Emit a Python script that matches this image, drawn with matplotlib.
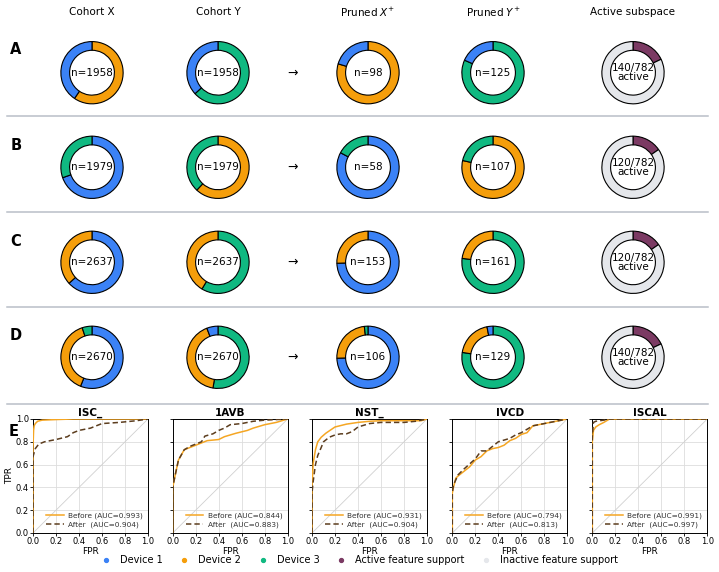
import matplotlib
matplotlib.use("Agg")
import matplotlib.pyplot as plt
from matplotlib.lines import Line2D
import numpy as np

W, H = 719, 572
DPI = 100

# ---------------- data ----------------
device_names = ["Device 1", "Device 2", "Device 3"]
device_colors = ["#3B82F6", "#F59E0B", "#10B981"]
active_color = "#7B3A63"
inactive_color = "#E5E7EB"

row_labels = ["A", "B", "C", "D"]
col_titles = ["Cohort X", "Cohort Y", "Pruned $X^{+}$", "Pruned $Y^{+}$", "Active subspace"]

# counts per device [Device 1, Device 2, Device 3]
cohort_x = [[793, 1165, 0], [1377, 0, 602], [1667, 970, 0], [1495, 1039, 136]]
cohort_y = [[720, 0, 1238], [0, 1225, 754], [0, 1091, 1546], [155, 1111, 1404]]
pruned_x = [[20, 78, 0], [48, 0, 10], [114, 39, 0], [79, 25, 2]]
pruned_y = [[23, 0, 102], [0, 84, 23], [0, 37, 124], [4, 25, 100]]
active_features = [140, 120, 120, 140]
total_features = 782

roc_titles = ["ISC_", "1AVB", "NST_", "IVCD", "ISCAL"]
auc_before = [0.993, 0.844, 0.931, 0.794, 0.991]
auc_after = [0.904, 0.883, 0.904, 0.813, 0.997]

before_fpr = [
    [0, 0, 0.005, 0.01, 0.02, 0.04, 0.08, 0.2, 0.35, 1.0],
    [0, 0, 0.02, 0.05, 0.1, 0.15, 0.2, 0.3, 0.4, 0.45, 0.55, 0.65, 0.7, 0.8, 0.9, 1.0],
    [0, 0, 0.01, 0.03, 0.05, 0.08, 0.12, 0.2, 0.3, 0.4, 0.5, 0.6, 0.95, 1.0],
    [0, 0, 0.01, 0.03, 0.05, 0.1, 0.15, 0.2, 0.25, 0.3, 0.35, 0.4, 0.45, 0.5, 0.55, 0.6, 0.65, 0.7, 0.8, 0.9, 1.0],
    [0, 0, 0.01, 0.03, 0.06, 0.1, 0.15, 1.0],
]
before_tpr = [
    [0, 0.75, 0.9, 0.94, 0.96, 0.98, 0.99, 0.995, 1.0, 1.0],
    [0, 0.4, 0.5, 0.64, 0.73, 0.75, 0.77, 0.81, 0.82, 0.845, 0.875, 0.9, 0.92, 0.95, 0.97, 1.0],
    [0, 0.4, 0.61, 0.73, 0.8, 0.84, 0.875, 0.93, 0.955, 0.97, 0.98, 0.985, 0.985, 1.0],
    [0, 0.35, 0.4, 0.48, 0.5, 0.54, 0.58, 0.64, 0.67, 0.72, 0.74, 0.75, 0.77, 0.81, 0.83, 0.865, 0.88, 0.94, 0.96, 0.98, 1.0],
    [0, 0.8, 0.9, 0.93, 0.95, 0.97, 1.0, 1.0],
]
after_fpr = [
    [0, 0, 0.02, 0.05, 0.1, 0.2, 0.3, 0.35, 0.4, 0.5, 0.6, 0.75, 0.9, 1.0],
    [0, 0, 0.02, 0.05, 0.1, 0.15, 0.2, 0.25, 0.28, 0.35, 0.4, 0.45, 0.5, 0.6, 0.65, 0.7, 0.8, 1.0],
    [0, 0, 0.01, 0.03, 0.05, 0.08, 0.1, 0.15, 0.2, 0.25, 0.3, 0.35, 0.4, 0.5, 0.6, 0.8, 0.9, 1.0],
    [0, 0, 0.01, 0.05, 0.1, 0.2, 0.25, 0.3, 0.4, 0.5, 0.55, 0.6, 0.7, 0.8, 1.0],
    [0, 0, 0.01, 0.03, 0.1, 0.15, 1.0],
]
after_tpr = [
    [0, 0.67, 0.74, 0.78, 0.8, 0.82, 0.845, 0.88, 0.9, 0.92, 0.96, 0.97, 0.985, 1.0],
    [0, 0.4, 0.5, 0.64, 0.73, 0.76, 0.78, 0.8, 0.85, 0.87, 0.9, 0.92, 0.95, 0.96, 0.97, 0.98, 0.99, 1.0],
    [0, 0.35, 0.45, 0.6, 0.68, 0.75, 0.8, 0.84, 0.86, 0.87, 0.87, 0.89, 0.93, 0.96, 0.97, 0.97, 0.98, 1.0],
    [0, 0.35, 0.42, 0.51, 0.56, 0.65, 0.72, 0.72, 0.8, 0.83, 0.86, 0.88, 0.94, 0.96, 1.0],
    [0, 0.85, 0.97, 0.98, 0.99, 1.0, 1.0],
]

# ---------------- layout ----------------
fig = plt.figure(figsize=(W / DPI, H / DPI), dpi=DPI)
fig.patch.set_facecolor("white")


def px_axes(x0, y0, w, h):
    return fig.add_axes([x0 / W, 1 - (y0 + h) / H, w / W, h / H])


def fx(x):
    return x / W


def fy(y):
    return 1 - y / H


col_x = [92, 218, 368, 493, 633]
arrow_x = 293
row_y = [72.7, 167.3, 262.3, 357.3]
row_label_y = [50, 146, 241, 336]
sep_y = [116, 211.5, 306.5, 404]

for cx, t in zip(col_x, col_titles):
    fig.text(fx(cx), fy(12), t, ha="center", va="center", fontsize=7.5)

for y in sep_y:
    fig.add_artist(Line2D([fx(7), fx(708)], [fy(y), fy(y)], color="#B9BFC8", lw=1.1,
                          transform=fig.transFigure))


def donut(cx, cy, counts, colors, label):
    ax = px_axes(cx - 33, cy - 33, 66, 66)
    ax.pie(counts, colors=colors, startangle=90, counterclock=False, radius=1.0,
           wedgeprops=dict(width=0.28, edgecolor="black", linewidth=0.8))
    ax.set_xlim(-1.06, 1.06)
    ax.set_ylim(-1.06, 1.06)
    ax.set_aspect("equal")
    ax.axis("off")
    ax.text(0, 0, label, ha="center", va="center", fontsize=7.5, linespacing=0.85)
    return ax


for r in range(4):
    fig.text(fx(16), fy(row_label_y[r]), row_labels[r], ha="center", va="center",
             fontsize=10.5, fontweight="bold")
    for c, data in enumerate([cohort_x[r], cohort_y[r], pruned_x[r], pruned_y[r]]):
        order = sorted([i for i in range(3) if data[i] > 0], key=lambda i: -data[i])
        vals = [data[i] for i in order]
        cols = [device_colors[i] for i in order]
        donut(col_x[c], row_y[r], vals, cols, f"n={sum(data)}")
    fig.text(fx(arrow_x), fy(row_y[r]), "→", ha="center", va="center", fontsize=9)
    a = active_features[r]
    donut(col_x[4], row_y[r], [a, total_features - a], [active_color, inactive_color],
          f"{a}/{total_features}\nactive")

# ---------------- ROC panels ----------------
roc_left = [33, 172.7, 312, 452.3, 592.3]
roc_top, roc_w, roc_h = 419, 115, 114
before_color = "#F5A623"
after_color = "#5C3D1E"

for k in range(5):
    ax = px_axes(roc_left[k], roc_top, roc_w, roc_h)
    ax.plot([0, 1], [0, 1], color="#D0D0D0", lw=0.6, zorder=1)
    ax.plot(before_fpr[k], before_tpr[k], color=before_color, lw=1.1,
            label=f"Before (AUC={auc_before[k]:.3f})", zorder=3)
    ax.plot(after_fpr[k], after_tpr[k], color=after_color, lw=1.1, ls=(0, (3.5, 2)),
            label=f"After  (AUC={auc_after[k]:.3f})", zorder=4)
    ax.set_xlim(0, 1)
    ax.set_ylim(0, 1)
    ticks = [0, 0.2, 0.4, 0.6, 0.8, 1.0]
    ax.set_xticks(ticks)
    ax.set_yticks(ticks)
    ax.tick_params(labelsize=6, length=2, width=0.6, pad=1)
    ax.grid(True, color="#DDDDDD", lw=0.6)
    ax.set_axisbelow(True)
    for s in ax.spines.values():
        s.set_linewidth(0.7)
    ax.set_title(roc_titles[k], fontsize=7.5, fontweight="bold", pad=2)
    ax.set_xlabel("FPR", fontsize=6.5, labelpad=0.5)
    if k == 0:
        ax.set_ylabel("TPR", fontsize=6.5, labelpad=1)
    else:
        ax.set_yticklabels([])
    leg = ax.legend(loc="lower right", fontsize=5.3, frameon=False, handlelength=2.4,
                    borderaxespad=0.3, labelspacing=0.25, handletextpad=0.6)
    for t in leg.get_texts():
        t.set_color("#333333")

fig.text(fx(14), fy(431), "E", ha="center", va="center", fontsize=10.5, fontweight="bold")

# ---------------- bottom legend ----------------
handles = [Line2D([], [], marker="o", ls="none", markersize=2.8, color=c)
           for c in device_colors + [active_color, inactive_color]]
labels = device_names + ["Active feature support", "Inactive feature support"]
fig.legend(handles, labels, loc="center", bbox_to_anchor=(0.5, fy(560)), ncol=5,
           frameon=False, fontsize=7, handlelength=1.0, handletextpad=0.95,
           columnspacing=1.7)

fig.savefig("out.png", dpi=DPI, facecolor="white")
